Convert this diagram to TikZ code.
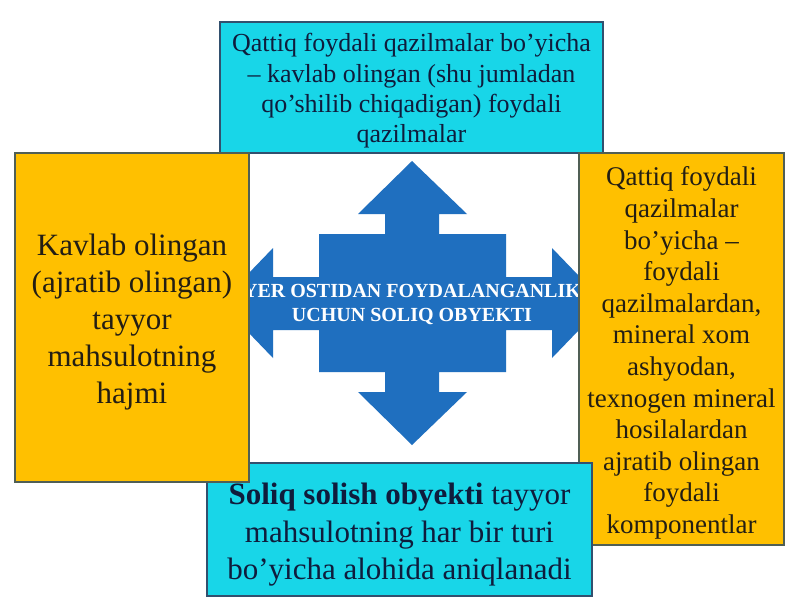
\documentclass[tikz,border=0pt]{standalone}
\usepackage{fontspec}
\setmainfont{Liberation Serif}
\definecolor{boxcyan}{RGB}{24,214,232}
\definecolor{cyanline}{RGB}{50,80,110}
\definecolor{boxorange}{RGB}{255,192,0}
\definecolor{orangeline}{RGB}{80,95,85}
\definecolor{arrowblue}{RGB}{31,111,191}
\definecolor{navytext}{RGB}{15,28,60}
\definecolor{darktext}{RGB}{35,30,20}
\tikzset{
  cyanbox/.style={draw=cyanline, line width=1.4pt, fill=boxcyan, inner sep=0pt, outer sep=0pt},
  orangebox/.style={draw=orangeline, line width=1.4pt, fill=boxorange, inner sep=0pt, outer sep=0pt},
  boxtext/.style={align=center, inner sep=0pt},
  arrowtext/.style={align=center, inner sep=0pt, text=white, font=\bfseries\fontsize{20}{24}\selectfont},
}
\begin{document}
\begin{tikzpicture}[x=1pt,y=-1pt]
\useasboundingbox (0,0) rectangle (800,600);
\fill[white] (0,0) rectangle (800,600);
% top box
\node[cyanbox, minimum width=383pt, minimum height=131pt] (topbox) at (411.5,87.5) {};
\node[boxtext, text=navytext, font=\fontsize{26}{30.3}\selectfont] (toptext) at (411.5,91)
 {Qattiq foydali qazilmalar bo’yicha\\– kavlab olingan (shu jumladan\\qo’shilib chiqadigan) foydali\\qazilmalar};
% central four-way arrow
\fill[arrowblue] (412,161) -- (467,214) -- (439,214) -- (439,234) -- (506,234) -- (506,277)
  -- (552,277) -- (552,248) -- (605,303) -- (552,358) -- (552,330) -- (506,330) -- (506,372)
  -- (439,372) -- (439,392) -- (467,392) -- (412,445) -- (358,392) -- (385,392) -- (385,372)
  -- (319,372) -- (319,330) -- (273,330) -- (273,358) -- (220,303) -- (273,248) -- (273,277)
  -- (319,277) -- (319,234) -- (385,234) -- (385,214) -- (358,214) -- cycle;
\node[arrowtext] (arrowlabel) at (412,304) {YER OSTIDAN FOYDALANGANLIK\\UCHUN SOLIQ OBYEKTI};
% right box
\node[orangebox, minimum width=205pt, minimum height=392pt] (rightbox) at (681.5,349) {};
\node[boxtext, text=darktext, font=\fontsize{27}{31.6}\selectfont] (righttext) at (681.5,353)
 {Qattiq foydali\\qazilmalar\\bo’yicha –\\foydali\\qazilmalardan,\\mineral xom\\ashyodan,\\texnogen mineral\\hosilalardan\\ajratib olingan\\foydali\\komponentlar};
% bottom box
\node[cyanbox, minimum width=385pt, minimum height=133pt] (bottombox) at (399.5,529.5) {};
\node[boxtext, text=navytext, font=\fontsize{31}{37.5}\selectfont] (bottomtext) at (399.5,535)
 {\textbf{Soliq solish obyekti} tayyor\\mahsulotning har bir turi\\bo’yicha alohida aniqlanadi};
% left box
\node[orangebox, minimum width=234pt, minimum height=329pt] (leftbox) at (132,317.5) {};
\node[boxtext, text=darktext, font=\fontsize{31}{37}\selectfont] (lefttext) at (132,322)
 {Kavlab olingan\\(ajratib olingan)\\tayyor\\mahsulotning\\hajmi};
\end{tikzpicture}
\end{document}
